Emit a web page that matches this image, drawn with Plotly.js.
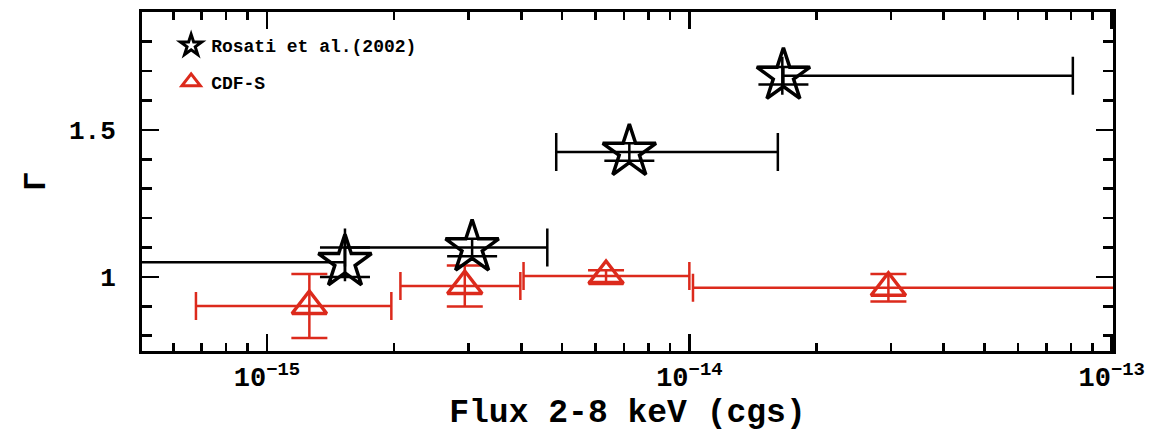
<!DOCTYPE html>
<html>
<head>
<meta charset="utf-8">
<script src="https://cdn.plot.ly/plotly-3.0.1.min.js"></script>
<style>
html,body{margin:0;padding:0;background:#fff;}
#chart{width:1156px;height:432px;}
</style>
</head>
<body>
<div id="chart"></div>
<script>
// Rosati et al. (2002)
const rosatiFlux  = [1.53e-15, 3.06e-15, 7.21e-15, 1.67e-14];
const rosatiFluxLo = [2.0e-16, 1.53e-15, 4.84e-15, 1.66e-14];
const rosatiFluxHi = [1.53e-15, 4.61e-15, 1.62e-14, 8.09e-14];
const rosatiGamma = [1.05, 1.10, 1.425, 1.684];
const rosatiGammaErr = [0.05, 0.03, 0.03, 0.03];

// CDF-S
const cdfsFlux   = [1.26e-15, 2.94e-15, 6.35e-15, 2.96e-14];
const cdfsFluxLo = [6.79e-16, 2.07e-15, 4.05e-15, 1.02e-14];
const cdfsFluxHi = [1.97e-15, 3.98e-15, 1.0e-14, 2.0e-13];
const cdfsGamma  = [0.901, 0.969, 1.003, 0.963];
const cdfsGammaErr = [0.109, 0.07, 0.02, 0.047];

const xTickVals = [1e-15, 1e-14, 1e-13];
const xTickText = ['10<sup>−15</sup>', '10<sup>−14</sup>', '10<sup>−13</sup>'];

const legendNames = ['Rosati et al.(2002)', 'CDF-S'];

const RED = '#dc2a1c';
const FONT = 'Liberation Mono, Courier New, monospace';

const rosatiPlus = rosatiFluxHi.map((v, i) => v - rosatiFlux[i]);
const rosatiMinus = rosatiFluxLo.map((v, i) => rosatiFlux[i] - v);
const cdfsPlus = cdfsFluxHi.map((v, i) => v - cdfsFlux[i]);
const cdfsMinus = cdfsFluxLo.map((v, i) => cdfsFlux[i] - v);

const traces = [
  {
    x: cdfsFlux, y: cdfsGamma, type: 'scatter', mode: 'markers', showlegend: false,
    marker: {symbol: 'triangle-up-open', size: 30, color: RED, line: {width: 3.5, color: RED}},
    error_x: {type: 'data', symmetric: false, array: cdfsPlus, arrayminus: cdfsMinus, color: RED, thickness: 2.5, width: 14},
    error_y: {type: 'data', array: cdfsGammaErr, color: RED, thickness: 2.5, width: 18}
  },
  {
    x: rosatiFlux, y: rosatiGamma, type: 'scatter', mode: 'markers', showlegend: false,
    marker: {symbol: 'star-open', size: 40, color: '#000', line: {width: 3.5, color: '#000'}},
    error_x: {type: 'data', symmetric: false, array: rosatiPlus, arrayminus: rosatiMinus, color: '#000', thickness: 2.5, width: 19},
    error_y: {type: 'data', array: rosatiGammaErr, color: '#000', thickness: 2.5, width: 25}
  },
  {
    x: [null], y: [null], type: 'scatter', mode: 'markers', name: legendNames[0], legendgroup: 'a',
    marker: {symbol: 'star-open', size: 22, color: '#000', line: {width: 3, color: '#000'}}
  },
  {
    x: [null], y: [null], type: 'scatter', mode: 'markers', name: legendNames[1], legendgroup: 'b',
    marker: {symbol: 'triangle-up-open', size: 20, color: RED, line: {width: 3, color: RED}}
  }
];

const layout = {
  width: 1156, height: 432,
  margin: {l: 142, r: 43, t: 12, b: 81},
  paper_bgcolor: '#fff', plot_bgcolor: '#fff',
  showlegend: true,
  legend: {
    x: 0.03, y: 0.955, xanchor: 'left', yanchor: 'top',
    bgcolor: 'rgba(0,0,0,0)', tracegroupgap: 10,
    font: {family: FONT, size: 18, color: '#000', weight: 'bold'}
  },
  xaxis: {
    type: 'log', range: [Math.log10(5.06e-16), -12.997],
    tickvals: xTickVals, ticktext: xTickText,
    ticks: 'inside', ticklen: 17, tickwidth: 2.5, tickcolor: '#000',
    showline: true, linewidth: 3, linecolor: '#000', mirror: 'allticks',
    showgrid: false, zeroline: false,
    ticklabelstandoff: 0,
    tickfont: {family: FONT, size: 27, color: '#000', weight: 'bold'},
    minor: {ticks: 'inside', ticklen: 8, tickwidth: 2.5, tickcolor: '#000', dtick: 'D1', showgrid: false},
    title: {text: 'Flux 2-8 keV (cgs)', font: {family: FONT, size: 33, color: '#000', weight: 'bold'}, standoff: 6}
  },
  yaxis: {
    range: [0.748, 1.901],
    tickvals: [1, 1.5], ticktext: ['1', '1.5'],
    ticks: 'inside', ticklen: 17, tickwidth: 2.5, tickcolor: '#000',
    showline: true, linewidth: 3, linecolor: '#000', mirror: 'allticks',
    showgrid: false, zeroline: false,
    ticklabelstandoff: 18,
    tickfont: {family: FONT, size: 26, color: '#000', weight: 'bold'},
    minor: {ticks: 'inside', ticklen: 10, tickwidth: 2.5, tickcolor: '#000', dtick: 0.1, tick0: 0, showgrid: false},
    title: {text: 'Γ', font: {family: FONT, size: 32, color: '#000', weight: 'bold'}, standoff: 14}
  }
};

Plotly.newPlot('chart', traces, layout, {displayModeBar: false, staticPlot: true});
</script>
</body>
</html>
